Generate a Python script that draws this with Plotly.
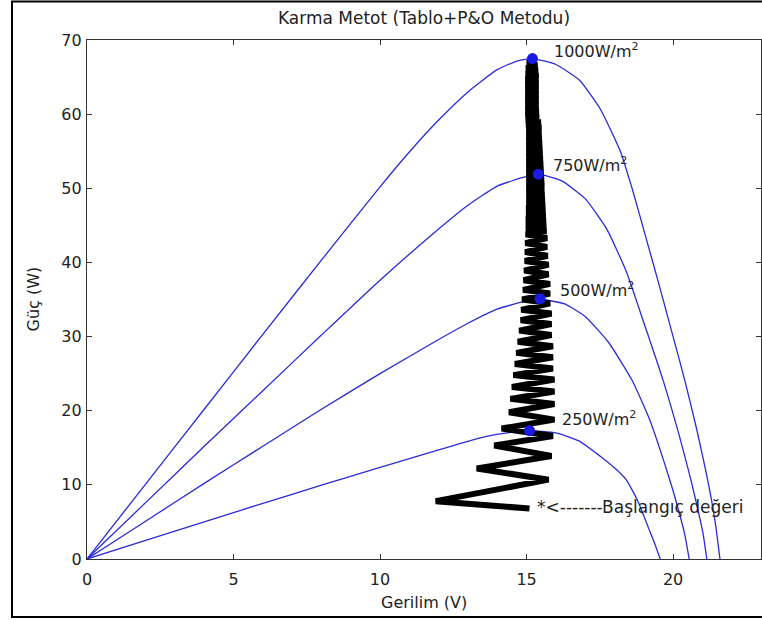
import plotly.graph_objects as go

# ---- data ----
v1000 = [0, 2, 4, 6, 8, 10, 11, 12, 13, 14, 14.7, 15.2, 16.0, 16.8, 17.5, 18.2, 18.6, 19.0, 19.5, 20.0, 20.4, 20.8, 21.1, 21.3, 21.45, 21.6]
p1000 = [0, 10.1, 20.2, 30.3, 40.3, 50.2, 54.9, 59.2, 63.0, 66.0, 67.2, 67.5, 66.7, 64.6, 60.8, 55.0, 50.0, 44.4, 37.3, 30.0, 24.1, 17.6, 12.2, 8.2, 4.6, 0]

v750 = [0, 2, 4, 6, 8, 10, 12, 13, 14, 15, 15.4, 16.2, 17.0, 17.75, 18.4, 19.0, 19.66, 20.2, 20.6, 20.85, 21.02, 21.15]
p750 = [0, 7.6, 15.2, 22.7, 30.2, 37.6, 44.5, 47.7, 50.3, 51.6, 51.9, 51.0, 48.6, 44.4, 38.8, 31.9, 24.1, 16.8, 10.8, 6.6, 3.5, 0]

v500 = [0, 2, 4, 6, 8, 10, 12, 13, 14, 15, 15.5, 16.3, 17.0, 17.8, 18.6, 19.2, 19.7, 20.0, 20.24, 20.4, 20.55]
p500 = [0, 5.1, 10.2, 15.2, 20.2, 25.0, 29.6, 31.8, 33.7, 34.8, 35.0, 34.4, 32.7, 29.2, 24.1, 18.8, 13.0, 9.2, 5.8, 3.3, 0]

v250 = [0, 2, 4, 6, 8, 10, 11.4, 12.5, 13.6, 14.4, 15.1, 16.0, 16.8, 17.6, 18.0, 18.4, 18.8, 19.15, 19.4, 19.56]
p250 = [0, 2.5, 5.0, 7.5, 9.95, 12.35, 14.0, 15.3, 16.5, 17.05, 17.3, 17.0, 15.9, 13.6, 12.3, 10.7, 7.8, 4.3, 1.8, 0]

mpp_v = [15.2, 15.4, 15.46, 15.1]
mpp_p = [67.5, 51.9, 35.1, 17.3]

trace_v = [15.10, 11.90, 15.75, 13.30, 15.85, 13.90, 15.90, 14.15, 15.95, 14.40,
           15.95, 14.45, 15.95, 14.50, 15.95, 14.55, 15.90, 14.60, 15.90, 14.65,
           15.90, 14.70, 15.85, 14.75, 15.85, 14.80, 15.85, 14.82, 15.80, 14.85,
           15.80, 14.88, 15.80, 14.90, 15.75, 14.92, 15.75, 14.94, 15.72, 14.95,
           15.70, 14.96, 15.70, 14.97,
           15.68, 14.98, 15.67, 14.98, 15.66, 14.98, 15.65, 14.99, 15.64, 14.99,
           15.63, 15.00, 15.62, 15.00, 15.61, 15.00, 15.60, 15.00, 15.60, 15.00,
           15.59, 15.00, 15.58, 15.00, 15.57, 15.00, 15.56, 15.00, 15.55, 15.00,
           15.54, 15.00, 15.53, 15.00, 15.52, 15.00, 15.51, 15.00, 15.50, 15.00,
           15.50, 14.99, 15.48, 14.98, 15.42, 14.97, 15.41, 14.97, 15.40, 14.97,
           15.40, 14.97, 15.40, 14.97, 15.40, 14.97, 15.40, 14.97, 15.40, 14.97,
           15.40, 14.98, 15.38, 14.99, 15.36, 15.02, 15.32, 15.15]
trace_p = [6.8, 7.8, 10.7, 12.2, 13.9, 15.3, 16.6, 17.6, 18.8, 19.8,
           20.9, 21.6, 22.6, 23.2, 24.2, 24.8, 25.7, 26.3, 27.2, 27.8,
           28.7, 29.3, 30.2, 30.8, 31.7, 32.2, 33.1, 33.6, 34.5, 35.0,
           35.8, 36.3, 37.1, 37.6, 38.4, 38.9, 39.7, 40.2, 40.9, 41.4,
           42.1, 42.6, 43.3, 43.8,
           44.2, 44.5, 44.9, 45.2, 45.6, 45.9, 46.3, 46.6, 47.0, 47.3,
           47.7, 48.0, 48.4, 48.7, 49.1, 49.4, 49.8, 50.1, 50.5, 50.8,
           51.2, 51.5, 51.9, 52.2, 52.6, 52.9, 53.3, 53.6, 54.0, 54.3,
           54.7, 55.0, 55.4, 55.7, 56.1, 56.4, 56.8, 57.1, 57.5, 57.8,
           58.2, 58.5, 58.9, 59.2, 59.6, 59.9, 60.3, 60.6, 61.0, 61.3,
           61.7, 62.0, 62.4, 62.7, 63.1, 63.4, 63.8, 64.1, 64.5, 64.8,
           65.2, 65.5, 65.9, 66.2, 66.6, 66.9, 67.2, 67.5]

labels = ["1000W/m<sup>2</sup>", "750W/m<sup>2</sup>", "500W/m<sup>2</sup>", "250W/m<sup>2</sup>"]
label_v = [15.87, 15.84, 16.07, 16.14]
label_p = [68.6, 53.2, 36.3, 19.0]

x_ticks = [0, 5, 10, 15, 20]
y_ticks = [0, 10, 20, 30, 40, 50, 60, 70]

FONT = "DejaVu Sans"
BLUE = "#2b2bd8"
TXT = "#222222"

fig = go.Figure()
for vv, pp in [(v1000, p1000), (v750, p750), (v500, p500), (v250, p250)]:
    fig.add_trace(go.Scatter(x=vv, y=pp, mode="lines",
                             line=dict(color=BLUE, width=1.3, shape="spline", smoothing=0.5),
                             showlegend=False, hoverinfo="skip"))

fig.add_trace(go.Scatter(x=trace_v, y=trace_p, mode="lines", line=dict(color="black", width=6),
                         showlegend=False, hoverinfo="skip"))
fig.add_trace(go.Scatter(x=mpp_v, y=mpp_p, mode="markers",
                         marker=dict(color="#1a1ae0", size=11, symbol="circle"),
                         showlegend=False, hoverinfo="skip"))

for t, xv, yv in zip(labels, label_v, label_p):
    fig.add_annotation(x=xv, y=yv, text=t, showarrow=False, xanchor="left", yanchor="middle",
                       font=dict(family=FONT, size=16, color=TXT))

fig.add_annotation(x=15.28, y=7.0, text="*<-------Başlangıç değeri", showarrow=False, xanchor="left",
                   yanchor="middle", font=dict(family=FONT, size=17, color=TXT))

# axis titles
fig.add_annotation(xref="paper", yref="paper", x=0.5, y=(559 - 603) / 519, text="Gerilim (V)", showarrow=False,
                   xanchor="center", yanchor="middle", font=dict(family=FONT, size=16, color=TXT))
fig.add_annotation(xref="paper", yref="paper", x=(33 - 87) / 674, y=0.5, text="Güç (W)", showarrow=False,
                   textangle=-90, xanchor="center", yanchor="middle", font=dict(family=FONT, size=16, color=TXT))

# outer frame
fig.add_shape(type="rect", xref="paper", yref="paper",
              x0=(12 - 87) / 674, x1=(766 - 87) / 674, y0=(559 - 617) / 519, y1=(559 - 1.5) / 519,
              line=dict(color="black", width=2), fillcolor="rgba(0,0,0,0)", layer="above")

axis_common = dict(showgrid=False, zeroline=False, showline=True, linecolor="#333333", linewidth=1.2,
                   mirror="allticks", ticks="inside", ticklen=5, tickcolor="#333333",
                   tickfont=dict(family=FONT, size=16, color=TXT))

fig.update_xaxes(range=[0, 23], tickvals=x_ticks, ticklabelstandoff=6, **axis_common)
fig.update_yaxes(range=[0, 70], tickvals=y_ticks, ticklabelstandoff=1, **axis_common)

fig.update_layout(
    width=762, height=620,
    margin=dict(l=87, r=1, t=40, b=61),
    paper_bgcolor="white", plot_bgcolor="white",
    hovermode=False,
    title=dict(text="Karma Metot (Tablo+P&O Metodu)", x=424 / 762, xanchor="center",
               y=1 - 18 / 620, yanchor="middle", font=dict(family=FONT, size=17, color=TXT)),
)

fig.write_html("out.html", config=dict(displayModeBar=False, staticPlot=True),
               post_script="document.body.style.margin='0';document.body.style.overflow='hidden';")
